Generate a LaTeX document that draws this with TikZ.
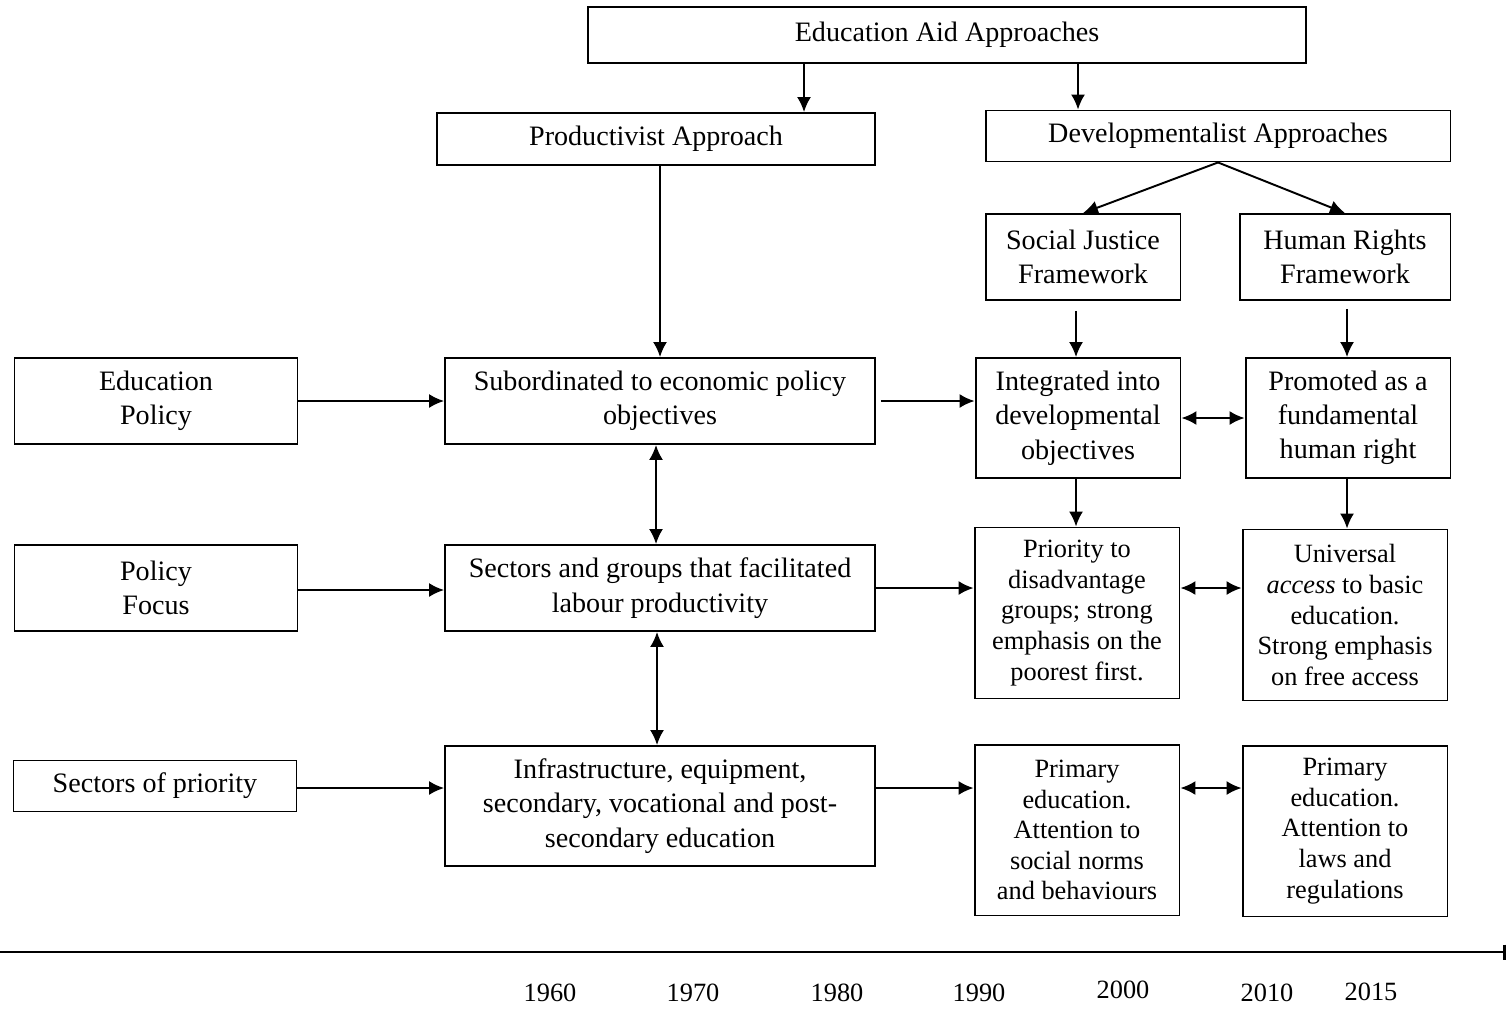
\documentclass[tikz,border=0pt]{standalone}
\usepackage{fontspec}
\setmainfont{Liberation Serif}
\usetikzlibrary{positioning,calc}
\usetikzlibrary{arrows.meta}
\tikzset{%
  % Specifications for style of nodes:
    >={Latex[width=2.8mm,length=3mm]},
    baseBox/.style = {rectangle,draw,line width=1.1pt,align=center,inner sep=0pt,font=\fontsize{16}{19.5}\selectfont},
    labelBox/.style = {baseBox,minimum width=5.66cm, minimum height=1.72cm},
    mainBox/.style = {baseBox,minimum width=8.6cm, minimum height=1.72cm},
    sideBox/.style = {baseBox,minimum width=4.1cm, minimum height=2.4cm},
    tallBox/.style = {baseBox,minimum width=4.1cm, minimum height=3.42cm,font=\fontsize{15}{17.4}\selectfont},
    link/.style = {->,line width=1.1pt},
    twoWay/.style = {<->,line width=1.1pt},
    yearLabel/.style = {font=\fontsize{15}{18}\selectfont,inner sep=0pt},
}

\begin{document}
\begin{tikzpicture}[x=0.02cm,y=-0.02cm]
	\useasboundingbox (0,0) rectangle (1506,1008);

	% approaches
	\node [baseBox, minimum width=14.38cm, minimum height=1.12cm] (aid) at (947,35) {Education Aid Approaches};
	\node [baseBox, minimum width=8.76cm, minimum height=1.04cm] (prod) at (656,139) {Productivist Approach};
	\node [baseBox, minimum width=9.3cm, minimum height=1.02cm] (dev) at (1218,136) {Developmentalist Approaches};
	\node [baseBox, minimum width=3.9cm, minimum height=1.72cm] (social) at (1083,257) {Social Justice\\Framework};
	\node [baseBox, minimum width=4.22cm, minimum height=1.72cm] (rights) at (1345,257) {Human Rights\\Framework};

	% row labels
	\node [labelBox] (policy) at (156,401) {Education\\Policy};
	\node [labelBox] (focus) at (156,588) {Policy\\Focus};
	\node [labelBox, minimum height=1.02cm] (sectors) at (155,786) {Sectors of priority};

	% productivist column
	\node [mainBox] (subord) at (660,401) {Subordinated to economic policy\\objectives};
	\node [mainBox] (groups) at (660,588) {Sectors and groups that facilitated\\labour productivity};
	\node [mainBox, minimum height=2.4cm] (infra) at (660,806) {Infrastructure, equipment,\\secondary, vocational and post-\\secondary education};

	% social justice column
	\node [sideBox] (integ) at (1078,418) {Integrated into\\developmental\\objectives};
	\node [tallBox] (prio) at (1077,613) {Priority to\\disadvantage\\groups; strong\\emphasis on the\\poorest first.};
	\node [tallBox] (primSoc) at (1077,830) {Primary\\education.\\Attention to\\social norms\\and behaviours};

	% human rights column
	\node [sideBox] (promo) at (1348,418) {Promoted as a\\fundamental\\human right};
	\node [tallBox] (univ) at (1345,615) {Universal\\\textit{access} to basic\\education.\\Strong emphasis\\on free access};
	\node [tallBox] (primHum) at (1345,831) {Primary\\education.\\Attention to\\laws and\\regulations};

	% connectors
	\coordinate (prodIn) at ($(prod.north)+(148,0)$);
	\coordinate (devIn) at ($(dev.north)+(-140,0)$);
	\draw[link] (prodIn |- aid.south) -- (prodIn);
	\draw[link] (devIn |- aid.south) -- (devIn);
	\draw[link] (dev.south) -- (social.north);
	\draw[link] (dev.south) -- (rights.north);
	\draw[link] (prod.south -| subord.north) -- (subord.north);
	\draw[link, shorten <=0.2cm] ($(social.south)+(-7,0)$) -- ($(integ.north)+(-2,0)$);
	\draw[link, shorten <=0.16cm] ($(rights.south)+(2,0)$) -- ($(promo.north)+(-1,0)$);

	\draw[link] (policy.east) -- (subord.west);
	\draw[link, shorten <=0.1cm] (subord.east) -- (subord.east -| integ.west);
	\draw[twoWay] (integ.east) -- (promo.west);
	\draw[twoWay] ($(subord.south)+(-4,0)$) -- ($(groups.north)+(-4,0)$);
	\draw[link] ($(integ.south)+(-2,0)$) -- ($(prio.north)+(-1,0)$);
	\draw[link] ($(promo.south)+(-1,0)$) -- ($(univ.north)+(2,0)$);

	\draw[link] ($(focus.east)+(0,2)$) -- ($(groups.west)+(0,2)$);
	\draw[link] (groups.east) -- (groups.east -| prio.west);
	\draw[twoWay] ($(prio.east)+(0,-25)$) -- ($(univ.west)+(0,-27)$);
	\draw[twoWay] ($(groups.south)+(-3,0)$) -- ($(infra.north)+(-3,0)$);

	\draw[link] ($(sectors.east)+(0,2)$) -- ($(infra.west)+(0,-18)$);
	\draw[link] ($(infra.east)+(0,-18)$) -- ($(infra.east -| primSoc.west)+(0,-18)$);
	\draw[twoWay] ($(primSoc.east)+(0,-42)$) -- ($(primHum.west)+(0,-43)$);

	% timeline
	\coordinate (tStart) at (0,952);
	\coordinate (tEnd) at (1506,952);
	\draw[line width=1.6pt, -{Bar[width=3mm]}] (tStart) -- (tEnd);
	\node [yearLabel] (y1960) at (550,993) {1960};
	\node [yearLabel] (y1970) at (693,993) {1970};
	\node [yearLabel] (y1980) at (837,993) {1980};
	\node [yearLabel] (y1990) at (979,993) {1990};
	\node [yearLabel] (y2000) at (1123,990) {2000};
	\node [yearLabel] (y2010) at (1267,993) {2010};
	\node [yearLabel] (y2015) at (1371,992) {2015};
\end{tikzpicture}
\end{document}
